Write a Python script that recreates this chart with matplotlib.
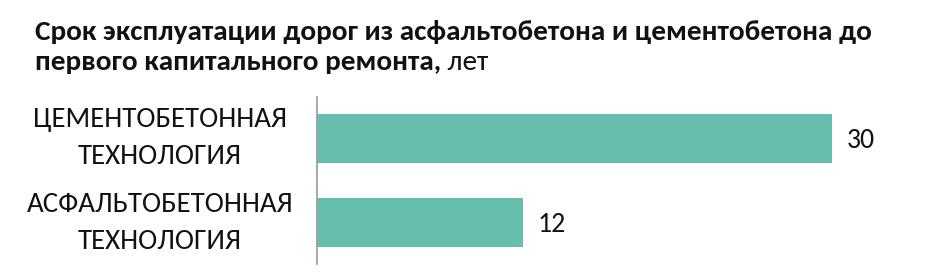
import matplotlib
matplotlib.use("Agg")
import matplotlib.pyplot as plt

plt.rcParams['font.family'] = ['Carlito', 'DejaVu Sans']

categories = ["АСФАЛЬТОБЕТОННАЯ\nТЕХНОЛОГИЯ", "ЦЕМЕНТОБЕТОННАЯ\nТЕХНОЛОГИЯ"]
values = [12, 30]
title_line1 = "Срок эксплуатации дорог из асфальтобетона и цементобетона до"
title_line2_bold = "первого капитального ремонта,"
title_line2_unit = " лет"

BAR = "#66bfad"
TXT = "#111111"
W, H = 945, 276
fig = plt.figure(figsize=(W/100, H/100), dpi=100)
ax = fig.add_axes([317/W, 1-264/H, 618/W, 167/H])
ypos = list(range(len(categories)))
ax.barh(ypos, values, height=0.585, color=BAR)
ax.set_xlim(0, 36)
ax.set_ylim(-0.494, 1.494)
ax.set_yticks(ypos)
ax.set_yticklabels(categories, ha='center', va='center', fontsize=20.8, linespacing=1.6, color=TXT)
ax.tick_params(axis='y', length=0, pad=113)
ax.set_xticks([])
for s in ['top', 'right', 'bottom']:
    ax.spines[s].set_visible(False)
ax.spines['left'].set_color('#999999')
ax.spines['left'].set_linewidth(1.2)
for y, v in zip(ypos, values):
    ax.text(v + 0.85, y - 0.02, str(v), va='center', ha='left', fontsize=20, color=TXT)

FS_T = 21.1
t1 = fig.text(35/W, 1-40/H, title_line1, fontsize=FS_T, fontweight='bold', va='baseline', color=TXT)
t2 = fig.text(35/W, 1-70/H, title_line2_bold, fontsize=FS_T, fontweight='bold', va='baseline', color=TXT)
fig.canvas.draw()
bb = t2.get_window_extent()
fig.text(bb.x1/W, 1-70/H, title_line2_unit, fontsize=FS_T, va='baseline', color=TXT)
fig.savefig("out.png", dpi=100)
